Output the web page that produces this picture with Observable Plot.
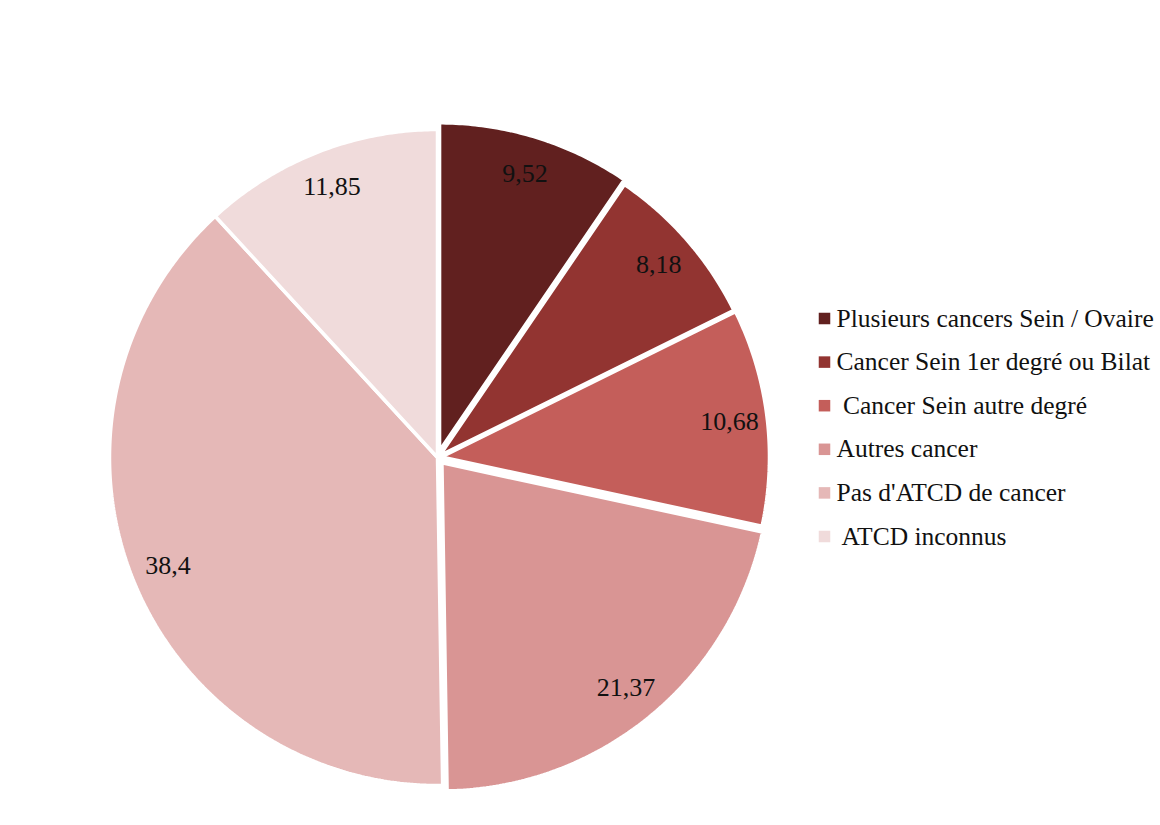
<!DOCTYPE html>
<html>
<head>
<meta charset="utf-8">
<script src="https://cdn.jsdelivr.net/npm/d3@7"></script>
<script src="https://cdn.jsdelivr.net/npm/@observablehq/plot@0.6"></script>
<style>
  html, body { margin: 0; padding: 0; background: #fff; }
  #chart svg { display: block; }
</style>
</head>
<body>
<div id="chart"></div>
<script>
const categories = [
  "Plusieurs cancers Sein / Ovaire",
  "Cancer Sein 1er degré ou Bilat",
  " Cancer Sein autre degré",
  "Autres cancer",
  "Pas d'ATCD de cancer",
  " ATCD inconnus"
];
const values = [9.52, 8.18, 10.68, 21.37, 38.4, 11.85];
const valueLabels = ["9,52", "8,18", "10,68", "21,37", "38,4", "11,85"];
const colors = ["#61201f", "#923431", "#c45e5a", "#d99594", "#e5b8b7", "#f0dbdb"];

// layout (pixel space)
const W = 1160, H = 825;
const cx = 437, cy = 457, R = 328;
const explode = [7, 3, 4, 7, 0, 0];

const arcs = d3.pie().sort(null).value(d => d)(values);

// slice outlines built from pie angles
const slicePts = [];
arcs.forEach((a, i) => {
  const mid = (a.startAngle + a.endAngle) / 2;
  const ox = cx + explode[i] * Math.sin(mid), oy = cy - explode[i] * Math.cos(mid);
  slicePts.push({k: i, x: ox, y: oy});
  const n = Math.max(2, Math.ceil((a.endAngle - a.startAngle) / 0.01));
  for (let j = 0; j <= n; j++) {
    const t = a.startAngle + (a.endAngle - a.startAngle) * j / n;
    slicePts.push({k: i, x: ox + R * Math.sin(t), y: oy - R * Math.cos(t)});
  }
  slicePts.push({k: i, x: ox, y: oy});
});

const labelPts = arcs.map((a, i) => {
  const mid = (a.startAngle + a.endAngle) / 2;
  const r = R * 0.885 + explode[i];
  return {x: cx + r * Math.sin(mid), y: cy - r * Math.cos(mid), text: valueLabels[i]};
});

const legendX = 824, legendY0 = 318, legendStep = 43.6;
const legendPts = categories.map((c, i) => ({x: legendX, y: legendY0 + i * legendStep, text: c, color: colors[i]}));

const plot = Plot.plot({
  width: W, height: H,
  margin: 0,
  x: {domain: [0, W], range: [0, W], axis: null},
  y: {domain: [0, H], range: [0, H], axis: null},
  style: {fontFamily: "'Liberation Serif', 'Times New Roman', serif", background: "#fff"},
  marks: [
    Plot.line(slicePts, {x: "x", y: "y", z: "k", fill: d => colors[d.k], stroke: "white", strokeWidth: 3.5, strokeLinejoin: "miter", curve: "linear"}),
    Plot.text(labelPts, {x: "x", y: "y", text: "text", fontSize: 26, fill: "#111"}),
    Plot.dot(legendPts, {x: "x", y: "y", symbol: "square", r: 6.5, fill: "color", stroke: null}),
    Plot.text(legendPts, {x: d => d.x + 12, y: "y", text: "text", textAnchor: "start", fontSize: 25.5, fill: "#111"})
  ]
});
document.getElementById("chart").appendChild(plot);
</script>
</body>
</html>
